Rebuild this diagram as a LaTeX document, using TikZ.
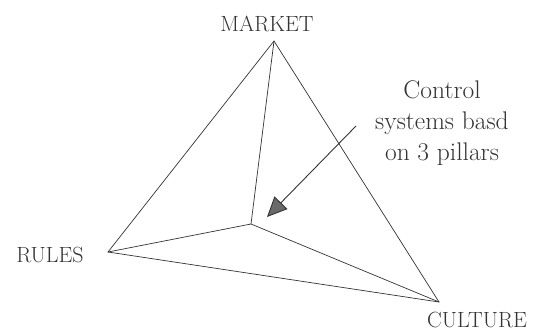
\documentclass[tikz,border=0pt]{standalone}
\usetikzlibrary{arrows.meta}
\definecolor{ink}{HTML}{333333}
\definecolor{tipgray}{HTML}{6A6A6A}
\begin{document}
\begin{tikzpicture}[x=1pt,y=-1pt,
  edge/.style={draw=ink,line width=0.7pt},
  lbl/.style={text=ink,font=\fontsize{22}{26}\selectfont,inner sep=0pt},
  callout/.style={text=ink,font=\fontsize{25.5}{31}\selectfont,align=center,inner sep=0pt},
  pointer/.style={draw=ink,line width=0.9pt,-{Triangle[length=20pt,width=18pt,fill=tipgray]}}]
\useasboundingbox (0,0) rectangle (534,332);
\coordinate (M) at (274,41);
\coordinate (R) at (108,252);
\coordinate (Cu) at (439,302);
\coordinate (C) at (251,224);
\draw[edge] (M) -- (R) -- (Cu) -- cycle;
\draw[edge] (C) -- (M);
\draw[edge] (C) -- (R);
\draw[edge] (C) -- (Cu);
\node[lbl] (lm) at (267,24) {MARKET};
\node[lbl] (lr) at (50,255) {RULES};
\node[lbl] (lc) at (477,320) {CULTURE};
\node[callout] (txt) at (442,123) {Control\\systems basd\\on 3 pillars};
\coordinate (as) at (356,126);
\coordinate (ae) at (267,217);
\draw[pointer] (as) -- (ae);
\end{tikzpicture}
\end{document}
